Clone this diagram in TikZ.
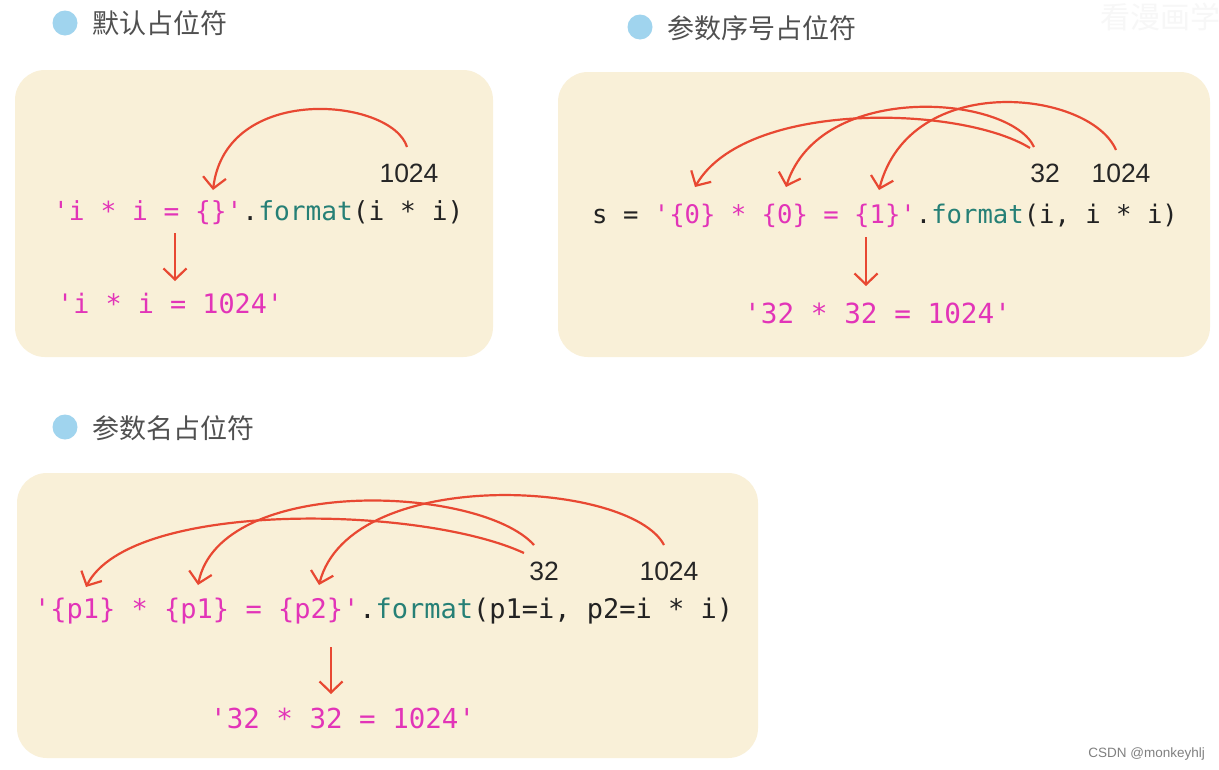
\documentclass[tikz,border=0pt]{standalone}
\usepackage{fontspec}
\setmainfont{Liberation Sans}
\newfontfamily\cjk{Noto Sans CJK SC}
\newfontfamily\codefont{DejaVu Sans Mono}
\usetikzlibrary{arrows.meta}
\definecolor{panelbg}{RGB}{249,240,216}
\definecolor{dotblue}{RGB}{160,212,238}
\definecolor{headgray}{RGB}{80,80,80}
\definecolor{codepink}{RGB}{226,52,184}
\definecolor{codeteal}{RGB}{38,128,118}
\definecolor{codedark}{RGB}{34,34,34}
\definecolor{arrred}{RGB}{232,72,50}
\newcommand\pk[1]{\textcolor{codepink}{#1}}
\newcommand\tl[1]{\textcolor{codeteal}{#1}}
\newcommand\q{\textquotesingle}
\begin{document}
\begin{tikzpicture}[x=1pt,y=-1pt,
  panel/.style={fill=panelbg, rounded corners=30pt},
  dot/.style={circle, fill=dotblue, inner sep=0pt, minimum size=25pt},
  heading/.style={anchor=west, inner sep=0pt, text=headgray, font={\cjk\fontsize{27}{30}\selectfont}},
  codeA/.style={anchor=base west, inner sep=0pt, text=codedark, font={\codefont\fontsize{26.2}{30}\selectfont}},
  codeB/.style={anchor=base west, inner sep=0pt, text=codedark, font={\codefont\fontsize{25.6}{30}\selectfont}},
  codeC/.style={anchor=base west, inner sep=0pt, text=codedark, font={\codefont\fontsize{27}{30}\selectfont}},
  res/.style={anchor=base west, inner sep=0pt, text=codepink, font={\codefont\fontsize{#1}{30}\selectfont}},
  num/.style={anchor=base, inner sep=0pt, text=black!85, font={\fontsize{26.5}{30}\selectfont}},
  conn/.style={draw=arrred, line width=2.2pt, -{Straight Barb[length=11pt,width=23pt]}}
]
\useasboundingbox (0,0) rectangle (1219,769);
\fill[white] (0,0) rectangle (1219,769);

% watermark
\begin{scope}
\clip (0,0) rectangle (1219,769);
\node[anchor=west, inner sep=0pt, text=black!3, font={\cjk\fontsize{30}{32}\selectfont}] (wm) at (1100,17) {看漫画学};
\end{scope}

% panels
\fill[panel] (15,70) rectangle (493,357);
\fill[panel] (558,72) rectangle (1210,357);
\fill[panel] (17,473) rectangle (758,758);

% headings
\node[dot] (d1) at (65,23) {};
\node[heading] (h1) at (92,23) {默认占位符};
\node[dot] (d2) at (640,27) {};
\node[heading] (h2) at (667,28) {参数序号占位符};
\node[dot] (d3) at (65,427) {};
\node[heading] (h3) at (92,428) {参数名占位符};

% ---------- panel 1
\node[codeA] (c1) at (53,220) {\pk{\q i * i = \{\}\q}.\tl{format}(i * i)};
\node[res=26.8] (r1) at (57,313) {\q i * i = 1024\q};
\node[num] (n1a) at (409,182) {1024};
\coordinate (s1a) at (407,147);
\coordinate (t1a) at (213,190);
\draw[conn] (s1a) .. controls (392,98) and (226,82) .. (t1a);
\coordinate (v1s) at (175,233);
\coordinate (v1e) at (175,281);
\draw[conn] (v1s) -- (v1e);

% ---------- panel 2
\node[codeB] (c2) at (592,223) {s = \pk{\q\{0\} * \{0\} = \{1\}\q}.\tl{format}(i, i * i)};
\node[res=27.7] (r2) at (744,323) {\q 32 * 32 = 1024\q};
\node[num] (n2a) at (1045,182) {32};
\node[num] (n2b) at (1121,182) {1024};
\coordinate (s2a) at (1030,148);
\coordinate (t2a) at (695,187);
\coordinate (s2b) at (1034,147);
\coordinate (t2b) at (786,187);
\coordinate (s2c) at (1116,150);
\coordinate (t2c) at (879,190);
\draw[conn] (s2a) .. controls (960,105) and (745,100) .. (t2a);
\draw[conn] (s2b) .. controls (1010,95) and (820,80) .. (t2b);
\draw[conn] (s2c) .. controls (1090,90) and (910,70) .. (t2c);
\coordinate (v2s) at (866,237);
\coordinate (v2e) at (866,286);
\draw[conn] (v2s) -- (v2e);

% ---------- panel 3
\node[codeC] (c3) at (34,618) {\pk{\q\{p1\} * \{p1\} = \{p2\}\q}.\tl{format}(p1=i, p2=i * i)};
\node[res=27.5] (r3) at (210,728) {\q 32 * 32 = 1024\q};
\node[num] (n3a) at (544,580) {32};
\node[num] (n3b) at (669,580) {1024};
\coordinate (s3a) at (524,553);
\coordinate (t3a) at (86,587);
\coordinate (s3b) at (534,545);
\coordinate (t3b) at (198,585);
\coordinate (s3c) at (664,545);
\coordinate (t3c) at (319,585);
\draw[conn] (s3a) .. controls (420,505) and (130,500) .. (t3a);
\draw[conn] (s3b) .. controls (480,485) and (220,475) .. (t3b);
\draw[conn] (s3c) .. controls (630,480) and (350,465) .. (t3c);
\coordinate (v3s) at (331,647);
\coordinate (v3e) at (331,694);
\draw[conn] (v3s) -- (v3e);

% footer
\node[anchor=base east, inner sep=0pt, text=black!50, font={\fontsize{13.5}{15}\selectfont}] (csdn) at (1205,757) {CSDN @monkeyhlj};
\end{tikzpicture}
\end{document}
